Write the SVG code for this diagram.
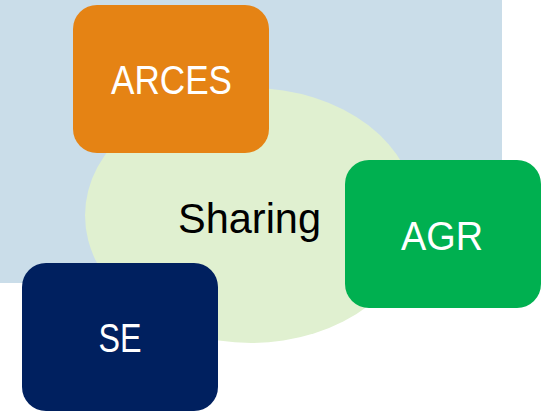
<svg xmlns="http://www.w3.org/2000/svg" width="547" height="411" viewBox="0 0 547 411">
<style>
.lbl{font-family:"Liberation Sans",Arial,sans-serif;fill:#ffffff;text-anchor:middle}
.box{stroke:none}
</style>
<rect x="0" y="0" width="502" height="283" fill="#cadde9"/>
<g id="sharing">
<ellipse cx="251" cy="215.5" rx="166" ry="127.5" fill="#e0f0d0"/>
</g>
<g id="arces">
<rect class="box" x="73" y="5" width="196" height="148" rx="24" fill="#e58314"/>
<text class="lbl" x="171.5" y="94" font-size="40" textLength="121" lengthAdjust="spacingAndGlyphs">ARCES</text>
</g>
<text x="178" y="233" font-family="Liberation Sans,Arial,sans-serif" font-size="42" fill="#000000" textLength="143" lengthAdjust="spacingAndGlyphs">Sharing</text>
<g id="agr">
<rect class="box" x="345" y="160" width="196" height="148" rx="24" fill="#00b050"/>
<text class="lbl" x="442" y="250" font-size="40" textLength="82" lengthAdjust="spacingAndGlyphs">AGR</text>
</g>
<g id="se">
<rect class="box" x="22" y="263" width="196" height="148" rx="24" fill="#00205f"/>
<text class="lbl" x="120" y="352" font-size="40" textLength="43" lengthAdjust="spacingAndGlyphs">SE</text>
</g>
<g id="connectors"/>
</svg>
